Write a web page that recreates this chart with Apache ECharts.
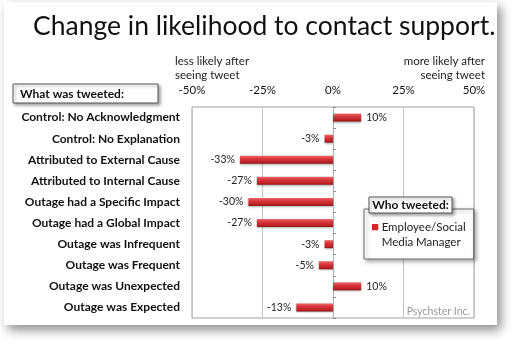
<!DOCTYPE html>
<html>
<head>
<meta charset="utf-8">
<script src="https://cdn.jsdelivr.net/npm/echarts@6/dist/echarts.min.js"></script>
<style>
  html, body { margin: 0; padding: 0; background: #ffffff; }
  #chart { width: 514px; height: 349px; }
</style>
</head>
<body>
<div id="chart"></div>
<script>
// Survey results: change in likelihood to contact support after seeing a tweet
const categories = [
  'Control: No Acknowledgment',
  'Control: No Explanation',
  'Attributed to External Cause',
  'Attributed to Internal Cause',
  'Outage had a Specific Impact',
  'Outage had a Global Impact',
  'Outage was Infrequent',
  'Outage was Frequent',
  'Outage was Unexpected',
  'Outage was Expected'
];
const changeValues = [10, -3, -33, -27, -30, -27, -3, -5, 10, -13];
const seriesName = 'Employee/Social\nMedia Manager';
const axisTicks = [-50, -25, 0, 25, 50];

const FONT = 'Lato';
const chart = echarts.init(document.getElementById('chart'), null, { renderer: 'canvas' });

const barData = changeValues.map(v => ({
  value: v,
  label: { position: v < 0 ? 'left' : 'right' }
}));

const boxStyle = {
  fill: '#fff', stroke: '#555', lineWidth: 1,
  shadowColor: 'rgba(0,0,0,0.35)', shadowBlur: 3, shadowOffsetX: 2, shadowOffsetY: 2
};

const option = {
  animation: false,
  backgroundColor: '#ffffff',
  textStyle: { fontFamily: FONT },
  title: {
    text: 'Change in likelihood to contact support.',
    left: 28,
    top: 8,
    textStyle: { fontFamily: FONT, fontSize: 26.5, fontWeight: 'normal', color: '#111' }
  },
  grid: {
    left: 192, right: 40, top: 107, bottom: 31,
    show: true, borderColor: '#a0a0a0', borderWidth: 1, backgroundColor: 'transparent'
  },
  xAxis: {
    type: 'value',
    position: 'top',
    min: axisTicks[0],
    max: axisTicks[axisTicks.length - 1],
    interval: 25,
    axisLine: { show: false },
    axisTick: { show: false },
    axisLabel: { formatter: '{value}%', margin: 11, fontSize: 11.5, color: '#111', fontFamily: FONT },
    splitLine: { lineStyle: { color: '#c4c4c4', width: 1 } }
  },
  yAxis: [
    {
      type: 'category',
      data: categories,
      inverse: true,
      position: 'left',
      axisLine: { show: false, onZero: false },
      axisTick: { show: false },
      axisLabel: { fontSize: 12, fontWeight: 'bold', color: '#111', margin: 12, fontFamily: FONT }
    },
    {
      type: 'category',
      data: categories,
      inverse: true,
      position: 'left',
      axisLine: { show: true, onZero: true, lineStyle: { color: '#b0b0b0' } },
      axisTick: { show: true, inside: true, length: 3, lineStyle: { color: '#909090' } },
      axisLabel: { show: false }
    }
  ],
  legend: {
    left: 364,
    top: 209,
    z: 10,
    orient: 'vertical',
    padding: [11, 8, 9, 8],
    backgroundColor: '#ffffff',
    borderColor: '#707070',
    borderWidth: 1,
    shadowColor: 'rgba(0,0,0,0.35)',
    shadowBlur: 4,
    shadowOffsetX: 2,
    shadowOffsetY: 2,
    itemWidth: 7,
    itemHeight: 22,
    itemGap: 0,
    icon: 'path://M0,0H6V6H0Z M0,21L0,21',
    textStyle: { fontSize: 11.5, color: '#222', lineHeight: 15, fontFamily: FONT, padding: [0, 0, 0, -2] },
    data: [{ name: seriesName, itemStyle: { color: '#cc2a2e' } }]
  },
  graphic: [
    {
      // card
      type: 'rect', z: -10, silent: true,
      shape: { x: 4, y: 2, width: 493, height: 323 },
      style: { fill: '#ffffff', shadowColor: 'rgba(0,0,0,0.45)', shadowBlur: 10, shadowOffsetX: 4, shadowOffsetY: 5 }
    },
    { type: 'rect', z: 50, shape: { x: 13, y: 84, width: 145, height: 19 }, style: boxStyle },
    { type: 'text', z: 51, style: { x: 20, y: 94, text: 'What was tweeted:', fontFamily: FONT, fontSize: 12, fontWeight: 'bold', fill: '#111', verticalAlign: 'middle' } },
    { type: 'rect', z: 50, shape: { x: 369, y: 197, width: 83, height: 16 }, style: boxStyle },
    { type: 'text', z: 51, style: { x: 410.5, y: 205.5, text: 'Who tweeted:', fontFamily: FONT, fontSize: 12, fontWeight: 'bold', fill: '#111', align: 'center', verticalAlign: 'middle' } },
    { type: 'text', z: 20, style: { x: 175, y: 61, text: 'less likely after', fontFamily: FONT, fontSize: 11.5, fill: '#222', verticalAlign: 'middle' } },
    { type: 'text', z: 20, style: { x: 175, y: 75, text: 'seeing tweet', fontFamily: FONT, fontSize: 11.5, fill: '#222', verticalAlign: 'middle' } },
    { type: 'text', z: 20, style: { x: 485, y: 61, text: 'more likely after', fontFamily: FONT, fontSize: 11.5, fill: '#222', align: 'right', verticalAlign: 'middle' } },
    { type: 'text', z: 20, style: { x: 485, y: 75, text: 'seeing tweet', fontFamily: FONT, fontSize: 11.5, fill: '#222', align: 'right', verticalAlign: 'middle' } },
    { type: 'text', z: 20, style: { x: 470, y: 312, text: 'Psychster Inc.', fontFamily: FONT, fontSize: 10.5, fill: '#999', align: 'right', verticalAlign: 'middle' } }
  ],
  series: [
    {
      name: seriesName,
      type: 'bar',
      yAxisIndex: 0,
      data: barData,
      barWidth: 8,
      itemStyle: {
        color: new echarts.graphic.LinearGradient(0, 0, 0, 1, [
          { offset: 0, color: '#ea6a6c' },
          { offset: 0.35, color: '#d8383c' },
          { offset: 0.8, color: '#bb2226' },
          { offset: 1, color: '#8a1215' }
        ]),
        shadowColor: 'rgba(0,0,0,0.3)',
        shadowBlur: 2,
        shadowOffsetY: 1
      },
      label: {
        show: true,
        formatter: '{c}%',
        fontSize: 10.5,
        color: '#222',
        distance: 5,
        fontFamily: FONT
      }
    }
  ]
};

chart.setOption(option);
</script>
</body>
</html>
